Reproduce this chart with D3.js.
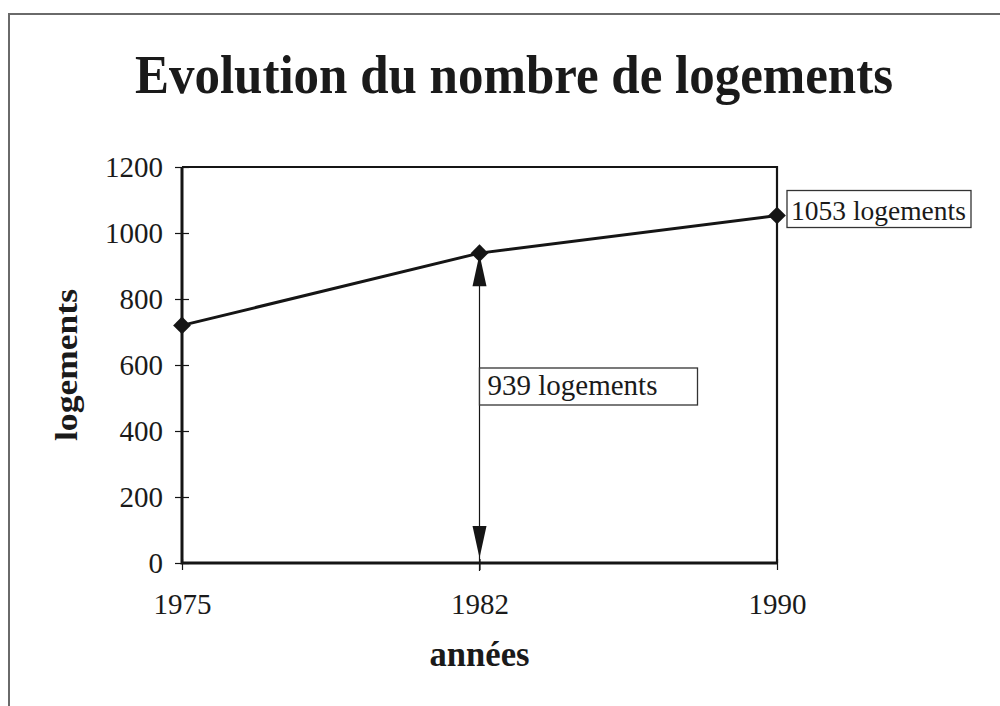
<!DOCTYPE html>
<html>
<head>
<meta charset="utf-8">
<script src="https://cdn.jsdelivr.net/npm/d3@7"></script>
<style>
  html, body { margin: 0; padding: 0; background: #fff; }
  svg text { font-family: "Liberation Serif", "Times New Roman", serif; fill: #1a1a1a; }
</style>
</head>
<body>
<div id="chart"></div>
<script>
// data
var years = ["1975", "1982", "1990"];
var logements = [720, 939, 1053];
var yTicks = [0, 200, 400, 600, 800, 1000, 1200];
var yMax = 1200;
var titleText = "Evolution du nombre de logements";
var xTitle = "années";
var yTitle = "logements";
// annotations : which year, text
var noteYears = ["1982", "1990"];
var noteTexts = ["939 logements", "1053 logements"];

var width = 1000
  , height = 706
  , margin = {top: 167, right: 223, bottom: 143, left: 182}
  , ink = "#151515"
  ;

var svg = d3.select("#chart").append("svg")
    .attr("width", width)
    .attr("height", height);

var x = d3.scalePoint()
    .domain(years)
    .range([margin.left, width - margin.right])
    .padding(0);

var y = d3.scaleLinear()
    .domain([0, yMax])
    .range([height - margin.bottom, margin.top]);

// scanned page frame (top + left edge)
svg.append("line")
    .attr("x1", 8).attr("x2", width).attr("y1", 14).attr("y2", 14)
    .style("stroke", "#6a6a6a").style("stroke-width", 2);
svg.append("line")
    .attr("x1", 9).attr("x2", 9).attr("y1", 14).attr("y2", height)
    .style("stroke", "#6a6a6a").style("stroke-width", 2);

// title
svg.append("text")
    .attr("x", 514)
    .attr("y", 93)
    .attr("text-anchor", "middle")
    .attr("textLength", 758)
    .attr("lengthAdjust", "spacingAndGlyphs")
    .style("font-size", "54px")
    .style("font-weight", "bold")
    .text(titleText);

// y axis
var gy = svg.append("g")
    .attr("transform", "translate(" + margin.left + ",0)")
    .call(d3.axisLeft(y).tickValues(yTicks).tickFormat(d3.format("d")).tickSize(7).tickPadding(12));
gy.select(".domain").remove();
gy.selectAll(".tick line").attr("x1", 7).style("stroke", ink).style("stroke-width", 1.2);
gy.selectAll(".tick text")
    .style("font-size", "29px")
    .attr("dy", "0.34em");

// x axis
var gx = svg.append("g")
    .attr("transform", "translate(0," + y(0) + ")")
    .call(d3.axisBottom(x).tickSize(7).tickPadding(23));
gx.select(".domain").remove();
gx.selectAll(".tick line").attr("y1", -4).style("stroke", ink).style("stroke-width", 1.2);
gx.selectAll(".tick text").style("font-size", "29px");

// plot frame : top & right thinner, axes thicker
var x0 = x(years[0]), x1 = x(years[years.length - 1]);
svg.append("path")
    .attr("d", "M" + x0 + "," + y(yMax) + "H" + x1 + "V" + y(0))
    .style("fill", "none").style("stroke", ink).style("stroke-width", 2.2);
svg.append("path")
    .attr("d", "M" + x0 + "," + y(yMax) + "V" + y(0) + "H" + x1)
    .style("fill", "none").style("stroke", ink).style("stroke-width", 3);

// axis titles
svg.append("text")
    .attr("x", x(years[1]))
    .attr("y", 666)
    .attr("text-anchor", "middle")
    .attr("textLength", 100)
    .attr("lengthAdjust", "spacingAndGlyphs")
    .style("font-size", "36px")
    .style("font-weight", "bold")
    .text(xTitle);

svg.append("text")
    .attr("transform", "translate(77,365) rotate(-90)")
    .attr("text-anchor", "middle")
    .attr("textLength", 152)
    .attr("lengthAdjust", "spacingAndGlyphs")
    .style("font-size", "31px")
    .style("font-weight", "bold")
    .text(yTitle);

// series
var data = years.map(function(d, i) { return {year: d, value: logements[i]}; });

svg.append("path")
    .datum(data)
    .attr("d", d3.line().x(function(d) { return x(d.year); }).y(function(d) { return y(d.value); }))
    .style("fill", "none")
    .style("stroke", ink)
    .style("stroke-width", 3);

svg.selectAll(".pt")
    .data(data)
    .enter().append("path")
    .attr("class", "pt")
    .attr("transform", function(d) { return "translate(" + x(d.year) + "," + y(d.value) + ")"; })
    .attr("d", d3.symbol().type(d3.symbolDiamond2).size(200))
    .style("fill", ink);

// double arrow under 1982 : from 0 up to the value
var ax = x(noteYears[0]);
var aVal = logements[years.indexOf(noteYears[0])];
svg.append("line")
    .attr("x1", ax).attr("x2", ax)
    .attr("y1", y(aVal)).attr("y2", y(0) + 8)
    .style("stroke", ink).style("stroke-width", 1.2);

function arrowHead(tipY, dir) {
    // dir = -1 points up, 1 points down
    var p = d3.path();
    p.moveTo(ax, tipY);
    p.lineTo(ax - 7, tipY - dir * 32);
    p.lineTo(ax + 7, tipY - dir * 32);
    p.closePath();
    return p.toString();
}
svg.append("path").attr("d", arrowHead(y(aVal) + 1, -1)).style("fill", ink);
svg.append("path").attr("d", arrowHead(y(0) - 5, 1)).style("fill", ink);

// boxed notes
function note(tx, ty, bx, by, bw, bh, txt, fs) {
    svg.append("rect")
        .attr("x", bx).attr("y", by).attr("width", bw).attr("height", bh)
        .style("fill", "#fff").style("stroke", "#333").style("stroke-width", 1.3);
    svg.append("text")
        .attr("x", tx).attr("y", ty)
        .style("font-size", fs + "px")
        .text(txt);
}
note(ax + 8, 395, ax, 368, 218, 37, noteTexts[0], 29);
var nx = x(noteYears[1]);
var ny = y(logements[years.indexOf(noteYears[1])]);
note(nx + 14, ny + 4, nx + 10, ny - 25, 184, 37, noteTexts[1], 27.5);
</script>
</body>
</html>
